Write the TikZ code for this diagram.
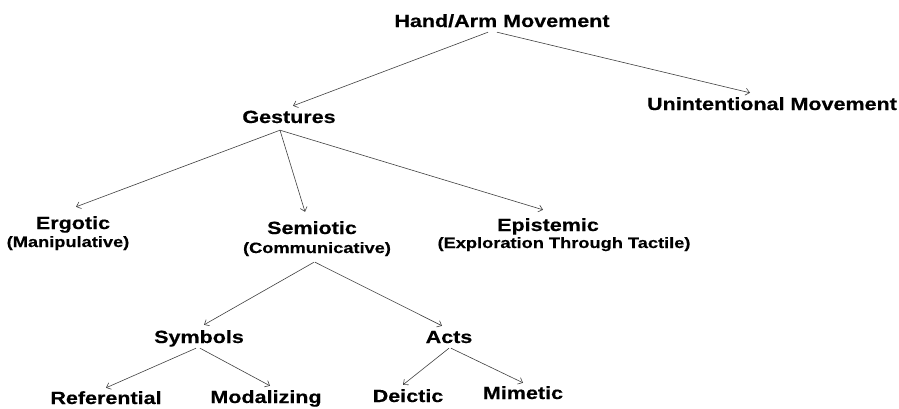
\documentclass[tikz,border=0pt]{standalone}
\usepackage{fontspec}
\setmainfont{Liberation Sans}[FakeStretch=1.22, FakeBold=0.4]
\usepackage{tikz}
\usetikzlibrary{arrows.meta}

\begin{document}
\begin{tikzpicture}[x=1bp,y=-1bp]
			\tikzstyle{TermStyle} = [font=\bfseries\fontsize{17.7}{20}\selectfont, anchor=base, inner sep=0pt, text height=17bp, text depth=5bp]
			\tikzstyle{NoteStyle} = [TermStyle, font=\bfseries\fontsize{15}{17}\selectfont, text height=10bp]
			\tikzstyle{ArrowStyle} = [-{Straight Barb[length=4bp,width=7bp]}, draw=black!75, line width=0.6bp]
			\useasboundingbox[fill=white] (0,0) rectangle (899,408);
			\node[TermStyle] (hand) at (502,27) {Hand/Arm Movement};
				\node[TermStyle] (unint) at (772,110) {Unintentional Movement};
				\node[TermStyle, text depth=7bp] (gest) at (289,123) {Gestures};
				\node[TermStyle, text height=22bp] (ergo) at (73,229) {Ergotic};
				\node[NoteStyle] (manip) at (68,247) {(Manipulative)};
				\node[TermStyle, text height=22bp] (semio) at (312,234) {Semiotic};
				\node[NoteStyle, text depth=9bp] (commu) at (317,253) {(Communicative)};
				\node[TermStyle, text height=21bp] (epist) at (548,231) {Epistemic};
				\node[NoteStyle] (explo) at (564,248) {(Exploration Through Tactile)};
				\node[TermStyle, text height=18bp] (symb) at (199,343) {Symbols};
				\node[TermStyle, text height=17bp] (acts) at (449,343) {Acts};
				\node[TermStyle, text height=16bp] (refer) at (106,404) {Referential};
				\node[TermStyle] (modal) at (266,403) {Modalizing};
				\node[TermStyle] (deict) at (408,402) {Deictic};
				\node[TermStyle, text height=16bp] (mimet) at (523,399) {Mimetic};
			\draw[ArrowStyle] ([xshift=-14bp]hand.south) -- ([xshift=4bp]gest.north);
			\draw[ArrowStyle] ([xshift=-5bp]hand.south) -- ([xshift=-22bp]unint.north);
			\draw[ArrowStyle] ([xshift=-9bp]gest.south) -- ([xshift=3bp]ergo.north);
			\draw[ArrowStyle] ([xshift=-9bp]gest.south) -- ([xshift=-7bp]semio.north);
			\draw[ArrowStyle] ([xshift=-9bp]gest.south) -- ([xshift=-5bp]epist.north);
			\draw[ArrowStyle] ([xshift=-3bp]commu.south) -- ([xshift=5bp]symb.north);
			\draw[ArrowStyle] ([xshift=-2bp]commu.south) -- ([xshift=-7bp]acts.north);
			\draw[ArrowStyle] ([xshift=-3bp]symb.south) -- (refer.north);
			\draw[ArrowStyle] ([xshift=1bp]symb.south) -- ([xshift=4bp]modal.north);
			\draw[ArrowStyle] (acts.south) -- ([xshift=-5bp]deict.north);
			\draw[ArrowStyle] ([xshift=2bp]acts.south) -- (mimet.north);
		\end{tikzpicture}
\end{document}
